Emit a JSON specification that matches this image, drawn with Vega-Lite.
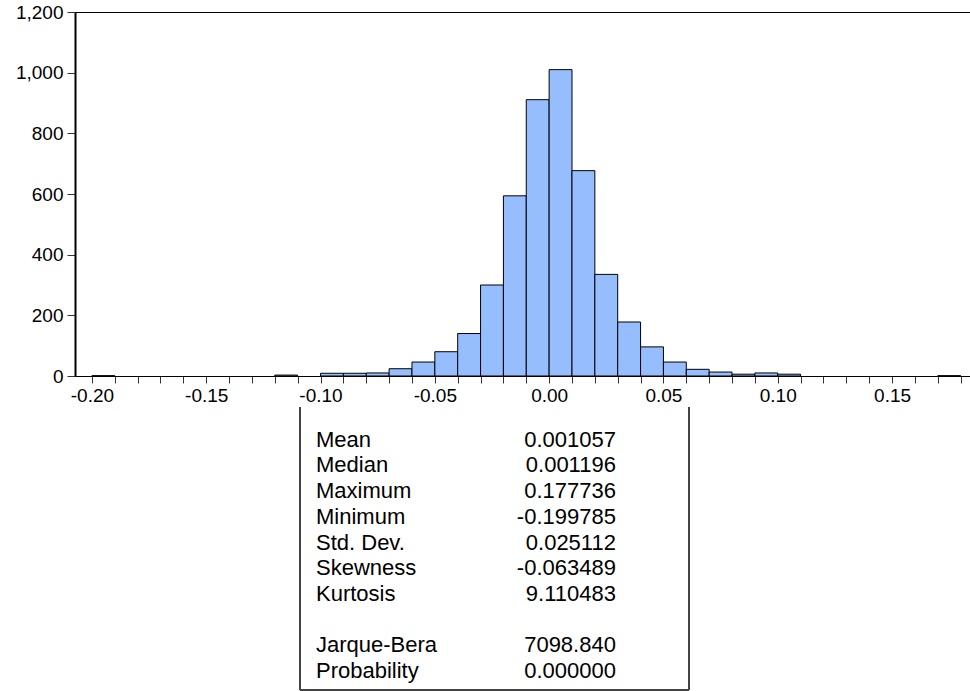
{
  "$schema": "https://vega.github.io/schema/vega-lite/v6.json",
  "background": "white",
  "padding": {"left": 5, "top": 2, "right": 0, "bottom": 0},
  "spacing": 0,
  "config": {
    "font": "Liberation Sans",
    "axis": {"labelFont": "Liberation Sans", "labelFontSize": 19, "labelColor": "#000", "grid": false, "title": null, "tickColor": "#333", "domainColor": "#000"}
  },
  "vconcat": [
    {
      "width": 895,
      "height": 364,
      "view": {"stroke": "#000", "strokeWidth": 1},
      "data": {
        "values": [
          {"bin_start": -0.20, "bin_end": -0.19, "count": 1},
          {"bin_start": -0.12, "bin_end": -0.11, "count": 3},
          {"bin_start": -0.10, "bin_end": -0.09, "count": 9},
          {"bin_start": -0.09, "bin_end": -0.08, "count": 9},
          {"bin_start": -0.08, "bin_end": -0.07, "count": 10},
          {"bin_start": -0.07, "bin_end": -0.06, "count": 24},
          {"bin_start": -0.06, "bin_end": -0.05, "count": 46},
          {"bin_start": -0.05, "bin_end": -0.04, "count": 80},
          {"bin_start": -0.04, "bin_end": -0.03, "count": 140},
          {"bin_start": -0.03, "bin_end": -0.02, "count": 300},
          {"bin_start": -0.02, "bin_end": -0.01, "count": 594},
          {"bin_start": -0.01, "bin_end": 0.00, "count": 911},
          {"bin_start": 0.00, "bin_end": 0.01, "count": 1010},
          {"bin_start": 0.01, "bin_end": 0.02, "count": 677},
          {"bin_start": 0.02, "bin_end": 0.03, "count": 335},
          {"bin_start": 0.03, "bin_end": 0.04, "count": 178},
          {"bin_start": 0.04, "bin_end": 0.05, "count": 96},
          {"bin_start": 0.05, "bin_end": 0.06, "count": 46},
          {"bin_start": 0.06, "bin_end": 0.07, "count": 22},
          {"bin_start": 0.07, "bin_end": 0.08, "count": 13},
          {"bin_start": 0.08, "bin_end": 0.09, "count": 6},
          {"bin_start": 0.09, "bin_end": 0.10, "count": 10},
          {"bin_start": 0.10, "bin_end": 0.11, "count": 6},
          {"bin_start": 0.17, "bin_end": 0.18, "count": 1}
        ]
      },
      "mark": {"type": "bar", "fill": "#96BEFF", "stroke": "#000", "strokeWidth": 1, "opacity": 1},
      "encoding": {
        "x": {
          "field": "bin_start",
          "type": "quantitative",
          "scale": {"domain": [-0.2074, 0.1841], "nice": false, "zero": false},
          "axis": {
            "values": [-0.20, -0.19, -0.18, -0.17, -0.16, -0.15, -0.14, -0.13, -0.12, -0.11, -0.10, -0.09, -0.08, -0.07, -0.06, -0.05, -0.04, -0.03, -0.02, -0.01, 0.00, 0.01, 0.02, 0.03, 0.04, 0.05, 0.06, 0.07, 0.08, 0.09, 0.10, 0.11, 0.12, 0.13, 0.14, 0.15, 0.16, 0.17, 0.18],
            "labelExpr": "abs(round(datum.value * 100)) % 5 == 0 ? replace(format(datum.value, '.2f'), '\u2212', '-') : ''",
            "tickSize": 7,
            "labelPadding": 3,
            "labelOverlap": false,
            "labelFlush": false,
            "domainWidth": 1
          }
        },
        "x2": {"field": "bin_end"},
        "y": {
          "field": "count",
          "type": "quantitative",
          "scale": {"domain": [0, 1200], "nice": false},
          "axis": {
            "values": [0, 200, 400, 600, 800, 1000, 1200],
            "format": ",d",
            "tickSize": 8,
            "labelPadding": 4,
            "minExtent": 69,
            "maxExtent": 69,
            "domainWidth": 2,
            "labelFlush": false
          }
        },
        "y2": {"datum": 0}
      }
    },
    {
      "width": 614,
      "height": 283,
      "view": {"stroke": null},
      "data": {
        "values": [
          {"stat": "Mean", "value": "0.001057"},
          {"stat": "Median", "value": "0.001196"},
          {"stat": "Maximum", "value": "0.177736"},
          {"stat": "Minimum", "value": "-0.199785"},
          {"stat": "Std. Dev.", "value": "0.025112"},
          {"stat": "Skewness", "value": "-0.063489"},
          {"stat": "Kurtosis", "value": "9.110483"},
          {"stat": "", "value": ""},
          {"stat": "Jarque-Bera", "value": "7098.840"},
          {"stat": "Probability", "value": "0.000000"}
        ]
      },
      "layer": [
        {
          "mark": {"type": "text", "align": "left", "baseline": "middle", "font": "Liberation Sans", "fontSize": 22, "color": "#000"},
          "encoding": {
            "y": {"field": "stat", "type": "ordinal", "sort": null, "axis": null, "scale": {"type": "point", "padding": 1.01, "align": 0.635}},
            "x": {"datum": 0.3925, "type": "quantitative", "scale": {"domain": [0, 1], "nice": false, "zero": false}, "axis": null},
            "text": {"field": "stat"}
          }
        },
        {
          "mark": {"type": "text", "align": "right", "baseline": "middle", "font": "Liberation Sans", "fontSize": 22, "color": "#000"},
          "encoding": {
            "y": {"field": "stat", "type": "ordinal", "sort": null, "axis": null},
            "x": {"datum": 0.881, "type": "quantitative", "axis": null},
            "text": {"field": "value"}
          }
        },
        {
          "mark": {"type": "rule", "color": "#444", "strokeWidth": 1},
          "encoding": {"x": {"datum": 0.3664, "type": "quantitative", "axis": null}}
        },
        {
          "mark": {"type": "rule", "color": "#444", "strokeWidth": 1},
          "encoding": {"x": {"datum": 1, "type": "quantitative", "axis": null}}
        },
        {
          "mark": {"type": "rule", "color": "#444", "strokeWidth": 1},
          "encoding": {
            "x": {"datum": 0.3664, "type": "quantitative", "axis": null},
            "x2": {"datum": 1},
            "y": {"value": "height"}
          }
        }
      ]
    }
  ]
}
